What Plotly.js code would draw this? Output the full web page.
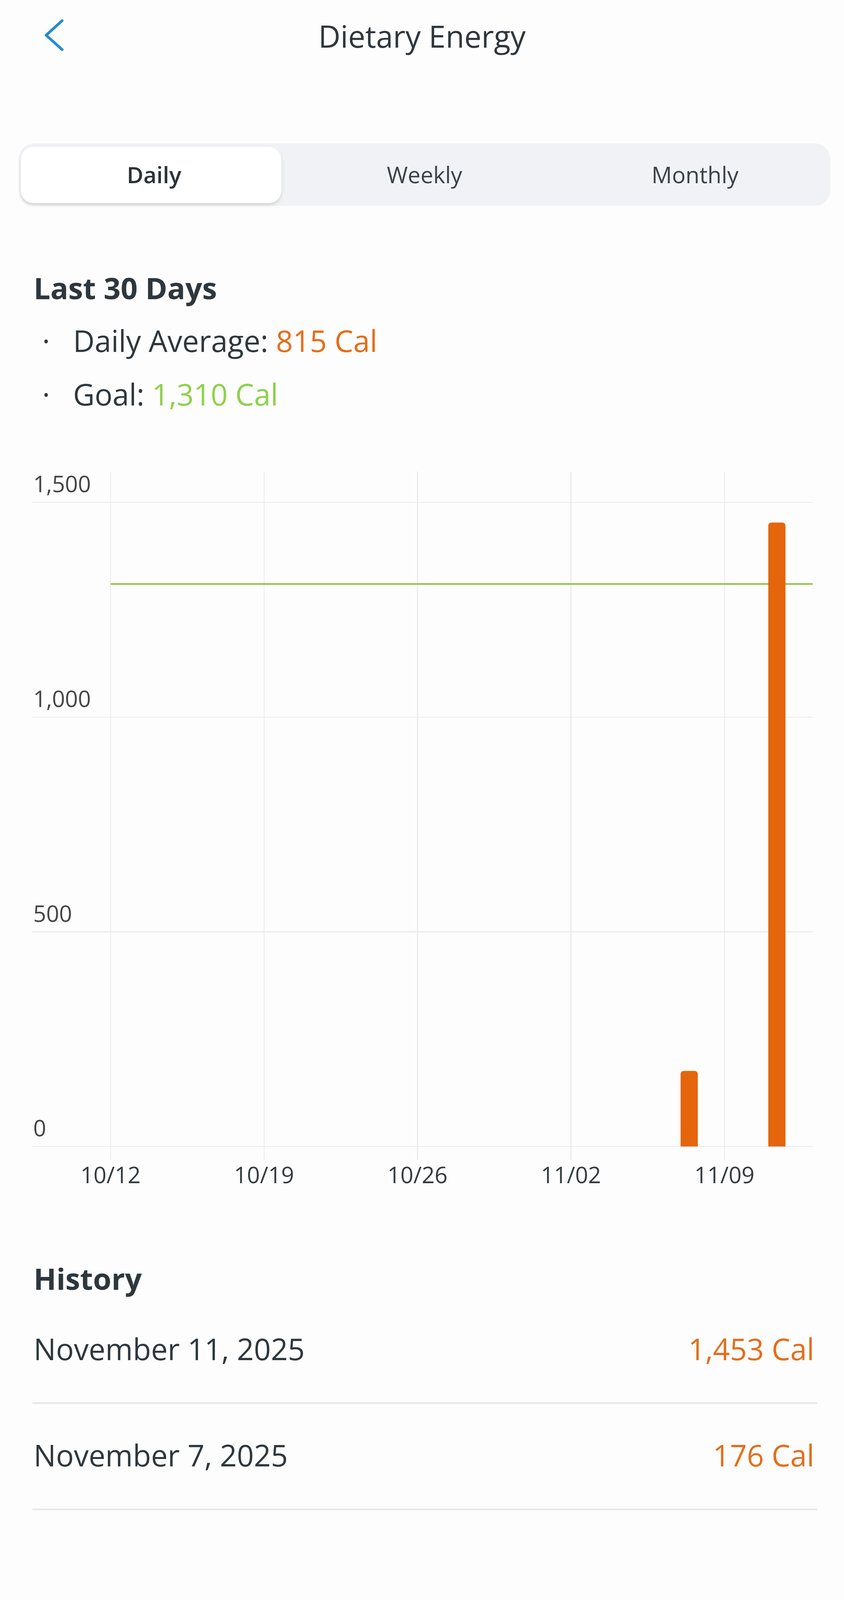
<!DOCTYPE html>
<html>
<head>
<meta charset="utf-8">
<script src="https://cdn.plot.ly/plotly-3.0.1.min.js"></script>
<style>
  html, body { margin: 0; padding: 0; background: #fdfdfd; }
  body {
    width: 2160px; height: 4413px; position: relative; overflow: hidden;
    font-family: "Open Sans", sans-serif; color: #2e373d;
  }
  .abs { position: absolute; white-space: nowrap; line-height: 1; }
  .tabs {
    position: absolute; left: 48px; top: 367px; width: 2077px; height: 160px;
    background: #f1f2f5; border-radius: 40px; display: flex;
  }
  .tab {
    flex: 1; display: flex; align-items: center; justify-content: center;
    font-size: 58px; color: #3a4248; line-height: 1; position: relative; z-index: 1;
  }
  .tab.on { font-weight: 600; color: #2b3338; }
  .pill {
    position: absolute; left: 5px; top: 9px; width: 667px; height: 144px;
    background: #fff; border-radius: 32px; box-shadow: 0 5px 9px rgba(0,0,0,0.13);
  }
  .orange { color: #e56d1b; }
  .green { color: #8ed14a; }
  .rule { position: absolute; left: 83px; width: 2008px; height: 4px; background: #e6e6e8; }
  #chart { position: absolute; left: 0; top: 1100px; width: 2160px; height: 2000px; }
</style>
</head>
<body>

<svg class="abs" style="left:100px;top:40px" width="80" height="100">
  <polyline points="59,13 18,50 59,87" fill="none" stroke="#2389d4" stroke-width="7" stroke-linecap="round" stroke-linejoin="round"/>
</svg>
<div class="abs" style="left:0;width:2160px;text-align:center;top:53px;font-size:78px;">Dietary Energy</div>

<div class="tabs">
  <div class="pill"></div>
  <div class="tab on">Daily</div>
  <div class="tab">Weekly</div>
  <div class="tab">Monthly</div>
</div>

<div class="abs" style="left:86px;top:699px;font-size:76px;font-weight:700;">Last 30 Days</div>
<div class="abs" style="left:108px;top:834px;font-size:76px;">&middot;</div>
<div class="abs" id="avgLine" style="left:187px;top:834px;font-size:76px;"></div>
<div class="abs" style="left:108px;top:971px;font-size:76px;">&middot;</div>
<div class="abs" id="goalLine" style="left:187px;top:971px;font-size:76px;"></div>

<div id="chart"></div>

<div class="abs" style="left:86px;top:3235px;font-size:76px;font-weight:700;">History</div>
<div id="history"></div>

<div class="abs" style="left:699px;top:4354px;width:776px;height:24px;border-radius:12px;background:#000;"></div>

<script>
// entries logged in the last 30 days
var days = ["2025-11-07", "2025-11-11"];
var calories = [176, 1453];
var goal = 1310;
var dailyAverage = 815;

var weekTicks = ["2025-10-12", "2025-10-19", "2025-10-26", "2025-11-02", "2025-11-09"];
var calTicks = [0, 500, 1000, 1500];
var xStart = "2025-10-08 10:00";
var xEnd = "2025-11-13 00:40";

var months = ["January", "February", "March", "April", "May", "June", "July",
  "August", "September", "October", "November", "December"];

function fmt(n) { return n.toLocaleString("en-US"); }

document.getElementById("avgLine").innerHTML =
  'Daily Average: <span class="orange">' + fmt(dailyAverage) + ' Cal</span>';
document.getElementById("goalLine").innerHTML =
  'Goal: <span class="green">' + fmt(goal) + ' Cal</span>';

// history list, newest first
var hist = document.getElementById("history");
var order = days.map((d, i) => i).sort((a, b) => days[b].localeCompare(days[a]));
order.forEach(function (i, row) {
  var p = days[i].split("-");
  var label = months[+p[1] - 1] + " " + (+p[2]) + ", " + p[0];
  var top = 3415 + 272 * row;
  hist.insertAdjacentHTML("beforeend",
    '<div class="abs" style="left:86px;top:' + top + 'px;font-size:76px;">' + label + '</div>' +
    '<div class="abs orange" style="right:76px;top:' + top + 'px;font-size:76px;">' + fmt(calories[i]) + ' Cal</div>' +
    '<div class="rule" style="top:' + (3590 + 272 * row) + 'px"></div>');
});

var goalTrace = {
  x: [weekTicks[0], xEnd],
  y: [goal, goal],
  type: "scatter",
  mode: "lines",
  line: { color: "#8dc540", width: 4 },
  zorder: 0,
  hoverinfo: "skip"
};

var barTrace = {
  x: days,
  y: calories,
  type: "bar",
  width: 0.784 * 86400000,
  offset: 0,
  marker: { color: "#e4650c", cornerradius: 8 },
  zorder: 1,
  hoverinfo: "skip"
};

var layout = {
  width: 2160,
  height: 2000,
  margin: { l: 82, r: 80, t: 107, b: 130 },
  paper_bgcolor: "#fdfdfd",
  plot_bgcolor: "#fdfdfd",
  showlegend: false,
  font: { family: "Open Sans, sans-serif", size: 58, color: "#333b40" },
  xaxis: {
    type: "date",
    range: [xStart, xEnd],
    tickvals: weekTicks,
    tickformat: "%m/%d",
    showgrid: true,
    gridcolor: "#ebebee",
    gridwidth: 2.5,
    zeroline: false,
    showline: false,
    ticks: "",
    ticklabelstandoff: 0,
    fixedrange: true
  },
  yaxis: {
    range: [-31.8, 1572],
    tickvals: calTicks,
    tickformat: ",d",
    ticklabelposition: "inside",
    ticklabeloverflow: "allow",
    ticklabelshift: -46,
    ticklabelstandoff: 0,
    showgrid: true,
    gridcolor: "#ebebee",
    gridwidth: 2.5,
    zeroline: false,
    showline: false,
    ticks: "",
    fixedrange: true
  }
};

Plotly.newPlot("chart", [goalTrace, barTrace], layout, { displayModeBar: false, staticPlot: true });
</script>
</body>
</html>
